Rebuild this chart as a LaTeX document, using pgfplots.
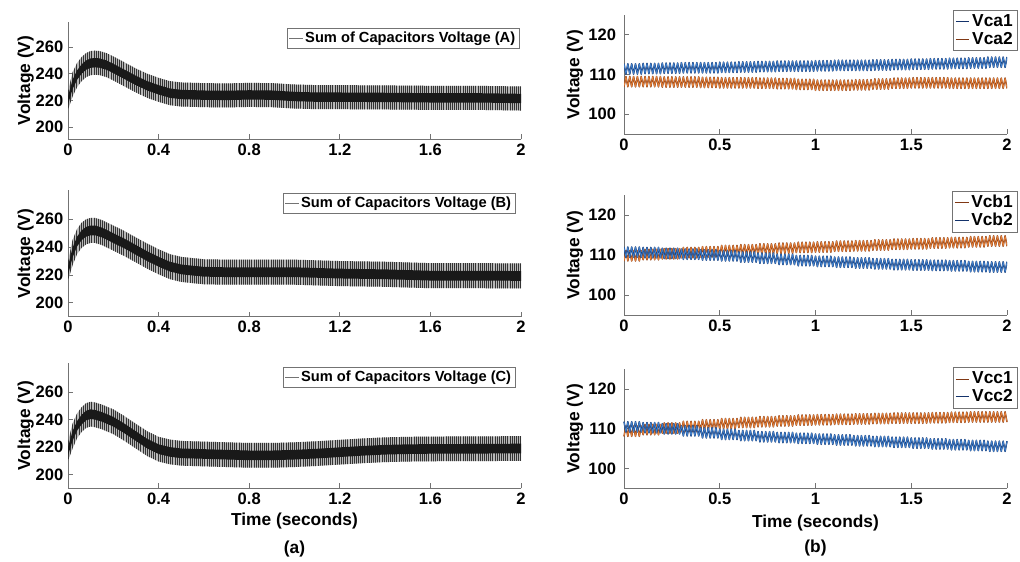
\documentclass[border=0pt]{standalone}
\usepackage{fontspec}
\setmainfont{Liberation Sans}
\usepackage{pgfplots}
\pgfplotsset{compat=1.18}
\usepackage{pgfplotstable}
\usepgfplotslibrary{fillbetween}
\usetikzlibrary{patterns.meta}

\definecolor{mblue}{rgb}{0.25,0.5,0.8}
\definecolor{dblue}{rgb}{0.08,0.2,0.42}
\definecolor{morange}{rgb}{0.9,0.5,0.22}
\definecolor{dorange}{rgb}{0.5,0.22,0.08}

% Sum of capacitor voltages: envelope of the ripple band (outer lo/hi, inner dark core ilo/ihi)
\pgfplotstableread{
t lo ilo ihi hi
0.00 213 217 223 227
0.02 223 228.5 235.5 241
0.04 230 235.5 242.5 248
0.06 234.5 240 247 252.5
0.08 237.5 243 250 255.5
0.10 239 244.5 251.5 257
0.12 239.3 244.8 251.8 257.3
0.14 239 244.5 251.5 257
0.17 237.5 243 250 255.5
0.20 235 240.5 247.5 253
0.25 230.5 236 243 248.5
0.30 226 231.5 238.5 244
0.35 222 227.5 234.5 240
0.40 219 224.5 231.5 237
0.45 216.5 222 229 234.5
0.50 215.5 221 228 233.5
0.60 215 220.5 227.5 233
0.70 214.8 220.3 227.3 232.8
0.80 215.2 220.7 227.7 233.2
0.90 215 220.5 227.5 233
1.00 214 219.5 226.5 232
1.10 213.5 219 226 231.5
1.20 213.5 219 226 231.5
1.40 213.3 218.8 225.8 231.3
1.60 213 218.5 225.5 231
1.80 213 218.5 225.5 231
2.00 212.5 218 225 230.5
}\sumA

\pgfplotstableread{
t lo ilo ihi hi
0.00 216 220 226 230
0.02 227 232.5 239.5 245
0.04 235 240.5 247.5 253
0.06 239.5 245 252 257.5
0.08 242 247.5 254.5 260
0.10 243 248.5 255.5 261
0.12 243 248.5 255.5 261
0.15 241.5 247 254 259.5
0.20 237.5 243 250 255.5
0.25 233.5 239 246 251.5
0.30 229 234.5 241.5 247
0.35 224.5 230 237 242.5
0.40 220.5 226 233 238.5
0.45 217 222.5 229.5 235
0.50 215 220.5 227.5 233
0.60 213.3 218.8 225.8 231.3
0.70 213 218.5 225.5 231
0.80 213 218.5 225.5 231
0.90 213 218.5 225.5 231
1.00 213 218.5 225.5 231
1.20 212 217.5 224.5 230
1.40 211.5 217 224 229.5
1.60 210.5 216 223 228.5
1.80 210.5 216 223 228.5
2.00 210.3 215.8 222.8 228.3
}\sumB

\pgfplotstableread{
t lo ilo ihi hi
0.00 210 214 220 224
0.02 219 224.5 231.5 237
0.04 226.5 232 239 244.5
0.06 231 236.5 243.5 249
0.08 234 239.5 246.5 252
0.10 235 240.5 247.5 253
0.12 234.5 240 247 252.5
0.15 233 238.5 245.5 251
0.20 229.5 235 242 247.5
0.25 224.5 230 237 242.5
0.30 219 224.5 231.5 237
0.35 213.5 219 226 231.5
0.40 209.5 215 222 227.5
0.45 207.5 213 220 225.5
0.50 206.5 212 219 224.5
0.60 206 211.5 218.5 224
0.70 205.5 211 218 223.5
0.80 205 210.5 217.5 223
0.90 205 210.5 217.5 223
1.00 205.5 211 218 223.5
1.10 206.3 211.8 218.8 224.3
1.20 207.3 212.8 219.8 225.3
1.30 208.3 213.8 220.8 226.3
1.40 209.1 214.6 221.6 227.1
1.50 209.5 215 222 227.5
1.60 209.7 215.2 222.2 227.7
1.80 209.8 215.3 222.3 227.8
2.00 210 215.5 222.5 228
}\sumC

% Individual capacitor voltages (50 Hz ripple), peaks and troughs
\pgfplotstableread{
t a1 a2 b1 b2 c1 c2
0.00 112.7 106.9 108.5 112.0 108.1 111.8
0.01 110.1 109.5 111.1 109.4 110.7 109.2
0.02 112.7 106.9 108.5 112.0 108.1 111.8
0.03 110.1 109.5 111.1 109.4 110.7 109.2
0.04 112.7 106.9 108.5 112.0 108.1 111.8
0.05 110.1 109.5 111.1 109.4 110.7 109.2
0.06 112.7 106.9 108.5 112.0 108.1 111.8
0.07 110.1 109.5 111.1 109.4 110.7 109.2
0.08 112.7 106.9 108.5 112.0 108.1 111.8
0.09 110.1 109.5 111.1 109.4 110.7 109.2
0.10 112.8 106.9 108.8 111.9 108.5 111.6
0.11 110.2 109.5 111.4 109.3 111.1 109.0
0.12 112.8 106.9 108.8 111.9 108.5 111.6
0.13 110.2 109.5 111.4 109.3 111.1 109.0
0.14 112.8 106.9 108.8 111.9 108.5 111.6
0.15 110.2 109.5 111.4 109.3 111.1 109.0
0.16 112.8 106.9 108.8 111.9 108.5 111.6
0.17 110.2 109.5 111.4 109.3 111.1 109.0
0.18 112.8 106.9 108.8 111.9 108.5 111.6
0.19 110.2 109.5 111.4 109.3 111.1 109.0
0.20 112.9 106.8 109.0 111.7 108.9 111.3
0.21 110.3 109.4 111.6 109.1 111.5 108.7
0.22 112.9 106.8 109.0 111.7 108.9 111.3
0.23 110.3 109.4 111.6 109.1 111.5 108.7
0.24 112.9 106.8 109.0 111.7 108.9 111.3
0.25 110.3 109.4 111.6 109.1 111.5 108.7
0.26 112.9 106.8 109.0 111.7 108.9 111.3
0.27 110.3 109.4 111.6 109.1 111.5 108.7
0.28 112.9 106.8 109.0 111.7 108.9 111.3
0.29 110.3 109.4 111.6 109.1 111.5 108.7
0.30 113.0 106.8 109.3 111.5 109.3 110.8
0.31 110.4 109.4 111.9 108.9 111.9 108.2
0.32 113.0 106.8 109.3 111.5 109.3 110.8
0.33 110.4 109.4 111.9 108.9 111.9 108.2
0.34 113.0 106.8 109.3 111.5 109.3 110.8
0.35 110.4 109.4 111.9 108.9 111.9 108.2
0.36 113.0 106.8 109.3 111.5 109.3 110.8
0.37 110.4 109.4 111.9 108.9 111.9 108.2
0.38 113.0 106.8 109.3 111.5 109.3 110.8
0.39 110.4 109.4 111.9 108.9 111.9 108.2
0.40 113.0 106.7 109.5 111.3 109.7 110.3
0.41 110.4 109.3 112.1 108.7 112.3 107.7
0.42 113.0 106.7 109.5 111.3 109.7 110.3
0.43 110.4 109.3 112.1 108.7 112.3 107.7
0.44 113.0 106.7 109.5 111.3 109.7 110.3
0.45 110.4 109.3 112.1 108.7 112.3 107.7
0.46 113.0 106.7 109.5 111.3 109.7 110.3
0.47 110.4 109.3 112.1 108.7 112.3 107.7
0.48 113.0 106.7 109.5 111.3 109.7 110.3
0.49 110.4 109.3 112.1 108.7 112.3 107.7
0.50 113.1 106.6 109.8 111.1 110.0 109.9
0.51 110.5 109.2 112.4 108.5 112.6 107.3
0.52 113.1 106.6 109.8 111.1 110.0 109.9
0.53 110.5 109.2 112.4 108.5 112.6 107.3
0.54 113.1 106.6 109.8 111.1 110.0 109.9
0.55 110.5 109.2 112.4 108.5 112.6 107.3
0.56 113.1 106.6 109.8 111.1 110.0 109.9
0.57 110.5 109.2 112.4 108.5 112.6 107.3
0.58 113.1 106.6 109.8 111.1 110.0 109.9
0.59 110.5 109.2 112.4 108.5 112.6 107.3
0.60 113.2 106.6 110.0 110.8 110.3 109.6
0.61 110.6 109.2 112.6 108.2 112.9 107.0
0.62 113.2 106.6 110.0 110.8 110.3 109.6
0.63 110.6 109.2 112.6 108.2 112.9 107.0
0.64 113.2 106.6 110.0 110.8 110.3 109.6
0.65 110.6 109.2 112.6 108.2 112.9 107.0
0.66 113.2 106.6 110.0 110.8 110.3 109.6
0.67 110.6 109.2 112.6 108.2 112.9 107.0
0.68 113.2 106.6 110.0 110.8 110.3 109.6
0.69 110.6 109.2 112.6 108.2 112.9 107.0
0.70 113.3 106.5 110.2 110.5 110.5 109.3
0.71 110.7 109.1 112.8 107.9 113.1 106.7
0.72 113.3 106.5 110.2 110.5 110.5 109.3
0.73 110.7 109.1 112.8 107.9 113.1 106.7
0.74 113.3 106.5 110.2 110.5 110.5 109.3
0.75 110.7 109.1 112.8 107.9 113.1 106.7
0.76 113.3 106.5 110.2 110.5 110.5 109.3
0.77 110.7 109.1 112.8 107.9 113.1 106.7
0.78 113.3 106.5 110.2 110.5 110.5 109.3
0.79 110.7 109.1 112.8 107.9 113.1 106.7
0.80 113.4 106.4 110.4 110.2 110.7 109.1
0.81 110.8 109.0 113.0 107.6 113.3 106.5
0.82 113.4 106.4 110.4 110.2 110.7 109.1
0.83 110.8 109.0 113.0 107.6 113.3 106.5
0.84 113.4 106.4 110.4 110.2 110.7 109.1
0.85 110.8 109.0 113.0 107.6 113.3 106.5
0.86 113.4 106.4 110.4 110.2 110.7 109.1
0.87 110.8 109.0 113.0 107.6 113.3 106.5
0.88 113.4 106.4 110.4 110.2 110.7 109.1
0.89 110.8 109.0 113.0 107.6 113.3 106.5
0.90 113.4 106.2 110.6 109.9 110.9 108.9
0.91 110.8 108.8 113.2 107.3 113.5 106.3
0.92 113.4 106.2 110.6 109.9 110.9 108.9
0.93 110.8 108.8 113.2 107.3 113.5 106.3
0.94 113.4 106.2 110.6 109.9 110.9 108.9
0.95 110.8 108.8 113.2 107.3 113.5 106.3
0.96 113.4 106.2 110.6 109.9 110.9 108.9
0.97 110.8 108.8 113.2 107.3 113.5 106.3
0.98 113.4 106.2 110.6 109.9 110.9 108.9
0.99 110.8 108.8 113.2 107.3 113.5 106.3
1.00 113.5 106.0 110.7 109.7 111.0 108.7
1.01 110.9 108.6 113.3 107.1 113.6 106.1
1.02 113.5 106.0 110.7 109.7 111.0 108.7
1.03 110.9 108.6 113.3 107.1 113.6 106.1
1.04 113.5 106.0 110.7 109.7 111.0 108.7
1.05 110.9 108.6 113.3 107.1 113.6 106.1
1.06 113.5 106.0 110.7 109.7 111.0 108.7
1.07 110.9 108.6 113.3 107.1 113.6 106.1
1.08 113.5 106.0 110.7 109.7 111.0 108.7
1.09 110.9 108.6 113.3 107.1 113.6 106.1
1.10 113.6 106.0 110.9 109.5 111.1 108.5
1.11 111.0 108.6 113.5 106.9 113.7 105.9
1.12 113.6 106.0 110.9 109.5 111.1 108.5
1.13 111.0 108.6 113.5 106.9 113.7 105.9
1.14 113.6 106.0 110.9 109.5 111.1 108.5
1.15 111.0 108.6 113.5 106.9 113.7 105.9
1.16 113.6 106.0 110.9 109.5 111.1 108.5
1.17 111.0 108.6 113.5 106.9 113.7 105.9
1.18 113.6 106.0 110.9 109.5 111.1 108.5
1.19 111.0 108.6 113.5 106.9 113.7 105.9
1.20 113.6 106.1 111.0 109.3 111.2 108.3
1.21 111.0 108.7 113.6 106.7 113.8 105.7
1.22 113.6 106.1 111.0 109.3 111.2 108.3
1.23 111.0 108.7 113.6 106.7 113.8 105.7
1.24 113.6 106.1 111.0 109.3 111.2 108.3
1.25 111.0 108.7 113.6 106.7 113.8 105.7
1.26 113.6 106.1 111.0 109.3 111.2 108.3
1.27 111.0 108.7 113.6 106.7 113.8 105.7
1.28 113.6 106.1 111.0 109.3 111.2 108.3
1.29 111.0 108.7 113.6 106.7 113.8 105.7
1.30 113.7 106.3 111.2 109.1 111.3 108.1
1.31 111.1 108.9 113.8 106.5 113.9 105.5
1.32 113.7 106.3 111.2 109.1 111.3 108.1
1.33 111.1 108.9 113.8 106.5 113.9 105.5
1.34 113.7 106.3 111.2 109.1 111.3 108.1
1.35 111.1 108.9 113.8 106.5 113.9 105.5
1.36 113.7 106.3 111.2 109.1 111.3 108.1
1.37 111.1 108.9 113.8 106.5 113.9 105.5
1.38 113.7 106.3 111.2 109.1 111.3 108.1
1.39 111.1 108.9 113.8 106.5 113.9 105.5
1.40 113.8 106.5 111.4 108.9 111.4 107.9
1.41 111.2 109.1 114.0 106.3 114.0 105.3
1.42 113.8 106.5 111.4 108.9 111.4 107.9
1.43 111.2 109.1 114.0 106.3 114.0 105.3
1.44 113.8 106.5 111.4 108.9 111.4 107.9
1.45 111.2 109.1 114.0 106.3 114.0 105.3
1.46 113.8 106.5 111.4 108.9 111.4 107.9
1.47 111.2 109.1 114.0 106.3 114.0 105.3
1.48 113.8 106.5 111.4 108.9 111.4 107.9
1.49 111.2 109.1 114.0 106.3 114.0 105.3
1.50 113.9 106.6 111.5 108.8 111.4 107.7
1.51 111.3 109.2 114.1 106.2 114.0 105.1
1.52 113.9 106.6 111.5 108.8 111.4 107.7
1.53 111.3 109.2 114.1 106.2 114.0 105.1
1.54 113.9 106.6 111.5 108.8 111.4 107.7
1.55 111.3 109.2 114.1 106.2 114.0 105.1
1.56 113.9 106.6 111.5 108.8 111.4 107.7
1.57 111.3 109.2 114.1 106.2 114.0 105.1
1.58 113.9 106.6 111.5 108.8 111.4 107.7
1.59 111.3 109.2 114.1 106.2 114.0 105.1
1.60 114.0 106.6 111.7 108.7 111.5 107.5
1.61 111.4 109.2 114.3 106.1 114.1 104.9
1.62 114.0 106.6 111.7 108.7 111.5 107.5
1.63 111.4 109.2 114.3 106.1 114.1 104.9
1.64 114.0 106.6 111.7 108.7 111.5 107.5
1.65 111.4 109.2 114.3 106.1 114.1 104.9
1.66 114.0 106.6 111.7 108.7 111.5 107.5
1.67 111.4 109.2 114.3 106.1 114.1 104.9
1.68 114.0 106.6 111.7 108.7 111.5 107.5
1.69 111.4 109.2 114.3 106.1 114.1 104.9
1.70 114.1 106.5 111.8 108.6 111.6 107.3
1.71 111.5 109.1 114.4 106.0 114.2 104.7
1.72 114.1 106.5 111.8 108.6 111.6 107.3
1.73 111.5 109.1 114.4 106.0 114.2 104.7
1.74 114.1 106.5 111.8 108.6 111.6 107.3
1.75 111.5 109.1 114.4 106.0 114.2 104.7
1.76 114.1 106.5 111.8 108.6 111.6 107.3
1.77 111.5 109.1 114.4 106.0 114.2 104.7
1.78 114.1 106.5 111.8 108.6 111.6 107.3
1.79 111.5 109.1 114.4 106.0 114.2 104.7
1.80 114.2 106.5 112.0 108.4 111.7 107.1
1.81 111.6 109.1 114.6 105.8 114.3 104.5
1.82 114.2 106.5 112.0 108.4 111.7 107.1
1.83 111.6 109.1 114.6 105.8 114.3 104.5
1.84 114.2 106.5 112.0 108.4 111.7 107.1
1.85 111.6 109.1 114.6 105.8 114.3 104.5
1.86 114.2 106.5 112.0 108.4 111.7 107.1
1.87 111.6 109.1 114.6 105.8 114.3 104.5
1.88 114.2 106.5 112.0 108.4 111.7 107.1
1.89 111.6 109.1 114.6 105.8 114.3 104.5
1.90 114.4 106.5 112.2 108.3 111.7 106.9
1.91 111.8 109.1 114.8 105.7 114.3 104.3
1.92 114.4 106.5 112.2 108.3 111.7 106.9
1.93 111.8 109.1 114.8 105.7 114.3 104.3
1.94 114.4 106.5 112.2 108.3 111.7 106.9
1.95 111.8 109.1 114.8 105.7 114.3 104.3
1.96 114.4 106.5 112.2 108.3 111.7 106.9
1.97 111.8 109.1 114.8 105.7 114.3 104.3
1.98 114.4 106.5 112.2 108.3 111.7 106.9
1.99 111.8 109.1 114.8 105.7 114.3 104.3
2.00 114.4 106.5 112.2 108.3 111.7 106.9
}\caps

\pgfplotsset{
  base/.style={
    scale only axis,
    axis lines*=left,
    tick align=inside,
    major tick length=3.75pt,
    axis line style={black!55, line width=0.6pt},
    every tick/.style={black!55, line width=0.6pt},
    tick label style={font=\fontsize{12.4}{14}\selectfont\bfseries},
    /pgf/number format/assume math mode=true,
    xmin=0, xmax=2,
    label style={font=\fontsize{13}{15}\selectfont\bfseries},
    ylabel={Voltage (V)},
    legend cell align=left,
    legend image code/.code={\draw[##1, line width=0.5pt] (0cm,0cm) -- (0.36cm,0cm);},
  },
  leftax/.style={
    base,
    width=339.75pt,
    xtick={0,0.4,0.8,1.2,1.6,2},
    ytick={200,220,240,260},
    ymin=190, ymax=281,
    ylabel style={at={(axis description cs:-0.0934,0.5)}, anchor=center},
    legend style={anchor=north east, draw=black!55, fill=white,
      font=\fontsize{11}{12}\selectfont\bfseries, inner sep=1.2pt,
      nodes={inner sep=1.6pt}},
  },
  rightax/.style={
    base,
    width=287.25pt,
    xtick={0,0.5,1,1.5,2},
    ytick={100,110,120},
    ymin=95, ymax=125,
    yticklabel style={xshift=-2.5pt},
    ylabel style={at={(axis description cs:-0.128,0.5)}, anchor=center},
    legend style={anchor=north east, draw=black!55, fill=white,
      font=\fontsize{13}{14}\selectfont\bfseries, inner sep=1.5pt,
      nodes={inner sep=1.8pt}, row sep=-1pt},
  },
  bluewave/.style={dblue, line width=1.1pt, line join=round},
  bluecore/.style={mblue, line width=0.6pt, line join=round, forget plot},
  orangewave/.style={dorange, line width=1.1pt, line join=round},
  orangecore/.style={morange, line width=0.6pt, line join=round, forget plot},
}

\newcommand{\sumband}[1]{%
  \addplot[draw=none, name path=lo, forget plot] table[x=t,y=lo] {#1};
  \addplot[draw=none, name path=hi, forget plot] table[x=t,y=hi] {#1};
  \addplot[draw=none, name path=ilo, forget plot] table[x=t,y=ilo] {#1};
  \addplot[draw=none, name path=ihi, forget plot] table[x=t,y=ihi] {#1};
  \addplot[fill=black!28, draw=none, forget plot] fill between[of=lo and hi];
  \addplot[pattern={Lines[angle=90,distance=1.6pt,line width=0.55pt]}, pattern color=black!80, draw=none, forget plot] fill between[of=lo and hi];
  \addplot[fill=black!90, draw=none, forget plot] fill between[of=ilo and ihi];
  \addlegendimage{black!55, line width=0.7pt}
}

\begin{document}
\begin{tikzpicture}
\path (0,0) rectangle (765pt,419.25pt);

% ---------- left column ----------
\begin{axis}[leftax, at={(51pt,314.8pt)}, anchor=south west, height=88.2pt, ymin=191, ymax=279,
  legend style={at={(0.996,0.944)}}]
\sumband{\sumA}
\addlegendentry{Sum of Capacitors Voltage (A)}
\end{axis}

\begin{axis}[leftax, at={(51pt,181.7pt)}, anchor=south west, height=95pt,
  legend style={at={(0.987,0.974)}}]
\sumband{\sumB}
\addlegendentry{Sum of Capacitors Voltage (B)}
\end{axis}

\begin{axis}[leftax, at={(51pt,53pt)}, anchor=south west, height=93.75pt,
  legend style={at={(0.987,0.968)}},
  xlabel={Time (seconds)},
  xlabel style={at={(axis description cs:0.5,-0.26)}, anchor=center},
  clip=false]
\sumband{\sumC}
\addlegendentry{Sum of Capacitors Voltage (C)}
\node[font=\fontsize{13}{15}\selectfont\bfseries, anchor=center] at (rel axis cs:0.5,-0.486) {(a)};
\end{axis}

% ---------- right column ----------
\begin{axis}[rightax, at={(468pt,318.75pt)}, anchor=south west, height=89.25pt,
  legend style={at={(1.027,1.042)}}]
\addplot[bluewave] table[x=t,y=a1] {\caps};
\addlegendentry{Vca1}
\addplot[bluecore] table[x=t,y=a1] {\caps};
\addplot[orangewave] table[x=t,y=a2] {\caps};
\addlegendentry{Vca2}
\addplot[orangecore] table[x=t,y=a2] {\caps};
\end{axis}

\begin{axis}[rightax, at={(468pt,183pt)}, anchor=south west, height=90pt,
  legend style={at={(1.027,1.036)}}]
\addplot[orangewave] table[x=t,y=b1] {\caps};
\addlegendentry{Vcb1}
\addplot[orangecore] table[x=t,y=b1] {\caps};
\addplot[bluewave] table[x=t,y=b2] {\caps};
\addlegendentry{Vcb2}
\addplot[bluecore] table[x=t,y=b2] {\caps};
\end{axis}

\begin{axis}[rightax, at={(468pt,53pt)}, anchor=south west, height=89.25pt,
  legend style={at={(1.027,1.017)}},
  xlabel={Time (seconds)},
  xlabel style={at={(axis description cs:0.5,-0.29)}, anchor=center},
  clip=false]
\addplot[orangewave] table[x=t,y=c1] {\caps};
\addlegendentry{Vcc1}
\addplot[orangecore] table[x=t,y=c1] {\caps};
\addplot[bluewave] table[x=t,y=c2] {\caps};
\addlegendentry{Vcc2}
\addplot[bluecore] table[x=t,y=c2] {\caps};
\node[font=\fontsize{13}{15}\selectfont\bfseries, anchor=center] at (rel axis cs:0.5,-0.5) {(b)};
\end{axis}
\end{tikzpicture}
\end{document}
